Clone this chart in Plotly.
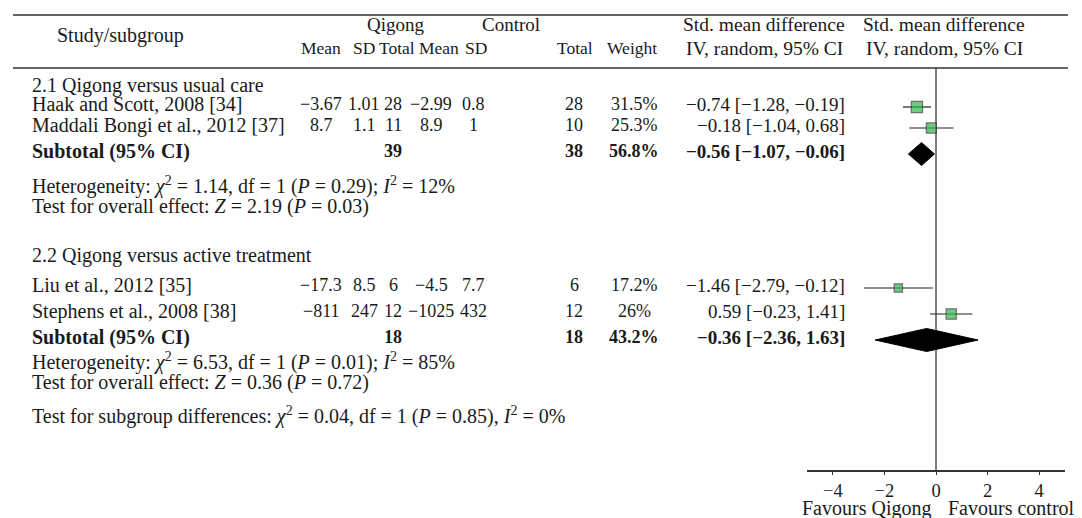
import math
import plotly.graph_objects as go

# ---------------- data ----------------
studies = ["Haak and Scott, 2008 [34]", "Maddali Bongi et al., 2012 [37]",
           "Liu et al., 2012 [35]", "Stephens et al., 2008 [38]"]
q_mean = [-3.67, 8.7, -17.3, -811]
q_sd = [1.01, 1.1, 8.5, 247]
q_total = [28, 11, 6, 12]
c_mean = [-2.99, 8.9, -4.5, -1025]
c_sd = [0.8, 1, 7.7, 432]
c_total = [28, 10, 6, 12]
weights = [31.5, 25.3, 17.2, 26]
smd = [-0.74, -0.18, -1.46, 0.59]
ci_low = [-1.28, -1.04, -2.79, -0.23]
ci_high = [-0.19, 0.68, -0.12, 1.41]

group_titles = ["2.1 Qigong versus usual care", "2.2 Qigong versus active treatment"]
sub_q_total = [39, 18]
sub_c_total = [38, 18]
sub_weight = [56.8, 43.2]
sub_smd = [-0.56, -0.36]
sub_low = [-1.07, -2.36]
sub_high = [-0.06, 1.63]
het_chi2 = [1.14, 6.53]
het_p = ["0.29", "0.01"]
het_i2 = [12, 85]
eff_z = ["2.19", "0.36"]
eff_p = ["0.03", "0.72"]
sg_chi2, sg_p, sg_i2 = "0.04", "0.85", 0
x_ticks = [-4, -2, 0, 2, 4]
favours = ["Favours Qigong", "Favours control"]

# ---------------- layout constants ----------------
W, H = 1082, 518
FONT = "Liberation Serif"
FS = 20      # running text
NFS = 18     # numbers in the table columns
HFS = 17.5   # column headers
INK = "#1a1a1a"
AXIS_Y = 463

TITLE_Y = [77, 247]
STUDY_Y = [96, 117, 277, 303]
SUB_Y = [143, 329]
HET_Y = [177, 353]
EFF_Y = [198, 374]
SUBTEST_Y = 407
LEFT = 22

COL = dict(mean=313, sd=356, tot=385, cmean=423, csd=465, ctot=566, wt=626, ci=839)
HCOL = dict(mean=313, sd=356, tot=389, cmean=431, csd=468, ctot=567, wt=624)


def fmt(v):
    return f"{v:g}".replace("-", "−")


def fmt2(v):
    return f"{v:.2f}".replace("-", "−")


fig = go.Figure()
ann = []


def txt(x, y, s, anchor="center", bold=False, size=FS):
    if bold:
        s = "<b>" + s + "</b>"
    ann.append(dict(x=x / W, y=y, xref="paper", yref="y", text=s, showarrow=False,
                    xanchor=anchor, yanchor="middle",
                    font=dict(family=FONT, size=size, color=INK)))


# header
txt(388, 16, "Qigong", size=19)
txt(503, 16, "Control", size=19)
txt(112, 27, "Study/subgroup", size=FS)
for key, lab in [("mean", "Mean"), ("sd", "SD"), ("tot", "Total"), ("cmean", "Mean"),
                 ("csd", "SD"), ("ctot", "Total"), ("wt", "Weight")]:
    txt(HCOL[key], 40, lab, size=HFS)
txt(756, 16, "Std. mean difference", size=19.5)
txt(756, 40, "IV, random, 95% CI", size=19.5)
txt(936, 16, "Std. mean difference", size=19.5)
txt(936, 40, "IV, random, 95% CI", size=19.5)

# groups
for g in range(2):
    txt(LEFT, TITLE_Y[g], group_titles[g], anchor="left")
    txt(LEFT, SUB_Y[g], "Subtotal (95% CI)", anchor="left", bold=True)
    txt(COL["tot"], SUB_Y[g], str(sub_q_total[g]), bold=True, size=NFS)
    txt(COL["ctot"], SUB_Y[g], str(sub_c_total[g]), bold=True, size=NFS)
    txt(COL["wt"], SUB_Y[g], fmt(sub_weight[g]) + "%", bold=True, size=NFS)
    txt(COL["ci"], SUB_Y[g], f"{fmt2(sub_smd[g])} [{fmt2(sub_low[g])}, {fmt2(sub_high[g])}]",
        anchor="right", bold=True, size=19)
    txt(LEFT, HET_Y[g],
        f"Heterogeneity: <i>χ</i><sup>2</sup> = {het_chi2[g]:.2f}, df = 1 (<i>P</i> = {het_p[g]}); "
        f"<i>I</i><sup>2</sup> = {het_i2[g]}%", anchor="left")
    txt(LEFT, EFF_Y[g],
        f"Test for overall effect: <i>Z</i> = {eff_z[g]} (<i>P</i> = {eff_p[g]})", anchor="left")
txt(LEFT, SUBTEST_Y,
    f"Test for subgroup differences: <i>χ</i><sup>2</sup> = {sg_chi2}, df = 1 (<i>P</i> = {sg_p}), "
    f"<i>I</i><sup>2</sup> = {sg_i2}%", anchor="left")

for i, s in enumerate(studies):
    y = STUDY_Y[i]
    txt(LEFT, y, s, anchor="left")
    txt(COL["mean"], y, fmt(q_mean[i]), size=NFS)
    txt(COL["sd"], y, fmt(q_sd[i]), size=NFS)
    txt(COL["tot"], y, str(q_total[i]), size=NFS)
    txt(COL["cmean"], y, fmt(c_mean[i]), size=NFS)
    txt(COL["csd"], y, fmt(c_sd[i]), size=NFS)
    txt(COL["ctot"], y, str(c_total[i]), size=NFS)
    txt(COL["wt"], y, fmt(weights[i]) + "%", size=NFS)
    txt(COL["ci"], y, f"{fmt2(smd[i])} [{fmt2(ci_low[i])}, {fmt2(ci_high[i])}]",
        anchor="right", size=19)

# CI lines + squares
fig.add_trace(go.Scatter(
    x=smd, y=[y + 3 for y in STUDY_Y], mode="markers",
    marker=dict(symbol="square", size=[2 * math.sqrt(w) for w in weights],
                color="#2db54b", line=dict(color="#333333", width=1.2)),
    error_x=dict(type="data", symmetric=False,
                 array=[h - m for h, m in zip(ci_high, smd)],
                 arrayminus=[m - l for m, l in zip(smd, ci_low)],
                 width=0, thickness=1.2, color="#222222"),
    showlegend=False, hoverinfo="skip"))

# diamonds
for g in range(2):
    yc = SUB_Y[g] + 3
    h = 11.5
    fig.add_trace(go.Scatter(
        x=[sub_low[g], sub_smd[g], sub_high[g], sub_smd[g], sub_low[g]],
        y=[yc, yc - h, yc, yc + h, yc], mode="lines", fill="toself",
        fillcolor="black", line=dict(color="black", width=1),
        showlegend=False, hoverinfo="skip"))

shapes = [
    dict(type="line", xref="paper", yref="y", x0=5 / W, x1=1060 / W, y0=7, y1=7,
         line=dict(color="#333333", width=1.5)),
    dict(type="line", xref="paper", yref="y", x0=5 / W, x1=1060 / W, y0=60, y1=60,
         line=dict(color="#333333", width=1.5)),
    dict(type="line", xref="x", yref="y", x0=0, x1=0, y0=60, y1=AXIS_Y,
         line=dict(color="#555555", width=1.5), layer="below"),
]

# favours labels
for k, (anchor, shift) in enumerate([("right", -3), ("left", 10)]):
    ann.append(dict(x=0, y=(H - 500) / H, xref="x", yref="paper", text=favours[k],
                    showarrow=False, xanchor=anchor, yanchor="middle", xshift=shift,
                    font=dict(family=FONT, size=FS, color=INK)))

fig.update_layout(
    width=W, height=H, margin=dict(l=0, r=0, t=0, b=0),
    paper_bgcolor="white", plot_bgcolor="white",
    xaxis=dict(domain=[799 / W, 1057 / W], range=[-5, 5], anchor="free",
               position=1 - AXIS_Y / H, showgrid=False, zeroline=False,
               showline=True, linecolor="#333333", linewidth=1.5,
               ticks="outside", ticklen=3, tickcolor="#333333", tickwidth=1.2,
               tickvals=x_ticks, ticktext=[fmt(t) for t in x_ticks],
               tickfont=dict(family=FONT, size=18.5, color=INK)),
    yaxis=dict(domain=[0, 1], range=[H, 0], visible=False, showgrid=False),
    annotations=ann, shapes=shapes,
)

fig.write_html("out.html")
